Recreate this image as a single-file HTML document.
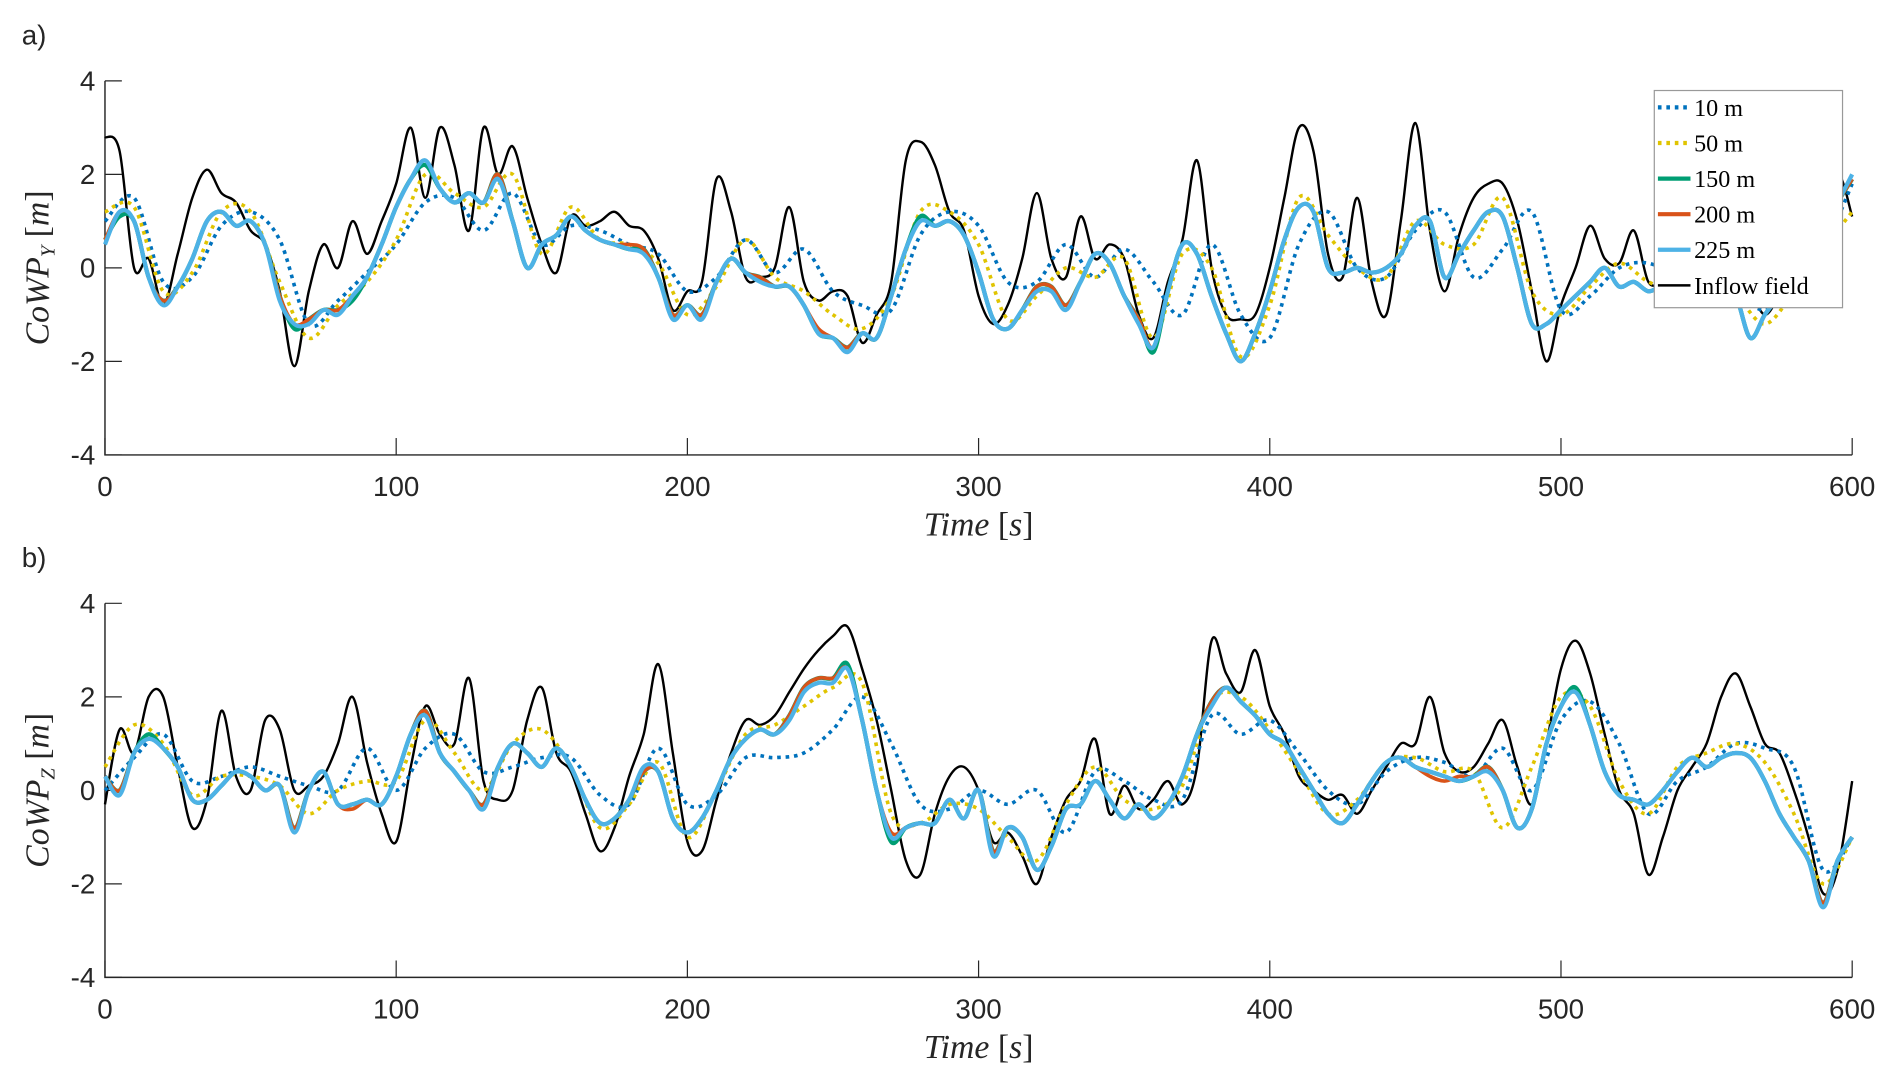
<!DOCTYPE html>
<html><head><meta charset="utf-8"><style>
html,body{margin:0;padding:0;background:#fff;}
svg{display:block;}
.tick{font-family:"Liberation Sans",sans-serif;font-size:23px;fill:#262626;}
.ttl{font-family:"Liberation Serif",serif;font-style:italic;font-size:28px;fill:#262626;}
.leg{font-family:"Liberation Serif",serif;font-size:20px;fill:#000;}
</style></head><body>
<svg id="chart" width="1892" height="1086" viewBox="0 0 1568 900" xmlns="http://www.w3.org/2000/svg"></svg>
<script>
// ---- data ----
const tickX = [0,100,200,300,400,500,600];
const tickY = [-4,-2,0,2,4];
// Panel a (CoWP_Y), step 5 s
const aInflow = [2.8,2.5,0.0,0.2,-0.8,0.3,1.5,2.1,1.6,1.4,0.8,0.5,-0.5,-2.1,-0.5,0.5,0.0,1.0,0.3,1.0,1.8,3.0,1.5,3.0,2.2,0.8,3.0,2.0,2.6,1.5,0.5,-0.1,1.1,0.9,1.0,1.2,0.9,0.8,0.2,-0.9,-0.5,-0.3,1.9,1.2,-0.2,-0.2,0.0,1.3,-0.3,-0.7,-0.5,-0.6,-1.6,-1.0,-0.3,2.3,2.7,2.2,1.2,0.8,-0.6,-1.2,-0.8,0.2,1.6,0.2,-0.2,1.1,0.2,0.5,0.2,-1.0,-1.5,-0.3,0.6,2.3,0.0,-1.0,-1.1,-1.0,0.0,1.5,3.0,2.5,0.3,-0.2,1.5,-0.3,-1.0,1.0,3.1,0.8,-0.5,0.7,1.5,1.8,1.8,1.0,-0.5,-2.0,-0.8,0.0,0.9,0.2,0.1,0.8,-0.3,-0.3,-0.3,-0.2,0.2,0.5,0.0,-0.5,-1.0,-0.6,-0.2,0.3,0.8,2.0,1.1];
const a225 = [0.5,1.2,1.0,-0.2,-0.8,-0.4,0.2,1.0,1.2,0.9,1.0,0.5,-0.7,-1.2,-1.2,-0.9,-1.0,-0.6,-0.2,0.5,1.3,1.9,2.3,1.7,1.4,1.6,1.4,1.9,1.0,0.0,0.5,0.7,1.1,0.8,0.6,0.5,0.4,0.3,-0.2,-1.1,-0.8,-1.1,-0.3,0.2,-0.1,-0.3,-0.4,-0.4,-0.8,-1.4,-1.5,-1.8,-1.4,-1.5,-0.6,0.4,1.0,0.9,1.0,0.7,-0.1,-1.1,-1.3,-0.9,-0.5,-0.5,-0.9,-0.3,0.3,0.1,-0.6,-1.2,-1.7,-0.5,0.5,0.3,-0.6,-1.4,-2.0,-1.4,-0.5,0.6,1.3,1.2,0.0,-0.1,0.0,-0.1,0.0,0.3,0.9,1.0,-0.2,0.3,0.8,1.2,1.1,0.0,-1.2,-1.2,-0.9,-0.6,-0.3,0.0,-0.4,-0.3,-0.5,-0.4,-0.6,-0.3,0.0,-0.5,-0.6,-1.5,-1.0,-0.6,-0.2,0.3,0.8,1.4,2.0];
const a200 = [0.6,1.2,1.0,-0.2,-0.7,-0.4,0.2,1.0,1.2,0.9,1.0,0.5,-0.6,-1.2,-1.1,-0.9,-0.9,-0.6,-0.2,0.5,1.3,1.9,2.3,1.7,1.4,1.6,1.4,2.0,1.0,0.0,0.5,0.7,1.1,0.8,0.6,0.5,0.5,0.4,-0.2,-1.0,-0.8,-1.0,-0.3,0.2,-0.1,-0.2,-0.4,-0.4,-0.8,-1.3,-1.5,-1.7,-1.4,-1.5,-0.6,0.4,1.0,0.9,1.0,0.7,-0.1,-1.1,-1.3,-0.9,-0.4,-0.4,-0.8,-0.3,0.3,0.1,-0.6,-1.1,-1.7,-0.5,0.5,0.3,-0.6,-1.4,-2.0,-1.4,-0.5,0.6,1.3,1.2,0.0,-0.1,0.0,-0.1,0.0,0.3,0.9,1.0,-0.2,0.3,0.8,1.2,1.1,0.0,-1.2,-1.2,-0.9,-0.6,-0.3,0.0,-0.4,-0.3,-0.5,-0.4,-0.6,-0.3,0.0,-0.5,-0.6,-1.5,-1.0,-0.6,-0.2,0.3,0.8,1.4,1.9];
const a150 = [0.6,1.1,1.0,-0.2,-0.7,-0.4,0.2,1.0,1.2,0.9,1.0,0.5,-0.6,-1.3,-1.1,-0.9,-0.9,-0.7,-0.2,0.5,1.3,1.9,2.2,1.7,1.4,1.6,1.4,2.0,1.0,0.0,0.5,0.7,1.1,0.8,0.6,0.5,0.4,0.4,-0.2,-1.0,-0.8,-1.0,-0.3,0.2,-0.1,-0.2,-0.4,-0.4,-0.8,-1.4,-1.5,-1.7,-1.4,-1.5,-0.6,0.4,1.1,0.9,1.0,0.7,-0.1,-1.1,-1.3,-0.9,-0.4,-0.4,-0.8,-0.3,0.3,0.1,-0.6,-1.1,-1.8,-0.5,0.5,0.3,-0.6,-1.4,-2.0,-1.4,-0.5,0.6,1.3,1.2,0.0,-0.1,0.0,-0.1,0.0,0.3,0.9,1.0,-0.2,0.3,0.8,1.2,1.1,0.0,-1.2,-1.2,-0.9,-0.6,-0.3,0.0,-0.4,-0.3,-0.5,-0.4,-0.6,-0.3,0.0,-0.5,-0.6,-1.5,-1.0,-0.6,-0.2,0.3,0.8,1.4,1.9];
// step 10 s
const a50 = [1.2,1.3,-0.5,-0.1,1.2,1.2,-0.3,-1.5,-0.8,-0.3,0.6,2.0,1.6,1.3,2.0,0.3,1.3,0.6,0.5,0.1,-1.0,-0.4,0.6,-0.2,-0.5,-1.0,-1.3,-0.6,1.2,1.2,0.5,-1.1,-0.6,0.0,-0.2,0.2,-1.5,0.3,0.0,-1.9,-0.8,1.5,0.7,0.0,-0.2,1.0,0.5,0.5,1.5,-0.5,-1.0,-0.4,0.1,-0.3,-0.5,-0.4,-0.6,-1.2,-0.5,0.4,1.2];
const a10 = [1.0,1.5,-0.3,-0.2,0.9,1.2,0.6,-1.2,-0.7,-0.1,0.5,1.4,1.5,0.8,1.6,0.5,0.9,0.8,0.5,0.3,-0.5,-0.2,0.6,-0.1,0.4,-0.5,-0.8,-0.9,0.7,1.2,0.9,-0.3,-0.3,0.5,-0.2,0.4,-0.3,-1.0,0.5,-1.0,-1.5,0.5,1.2,0.0,-0.2,0.8,1.2,-0.2,0.4,1.2,-0.9,-0.6,0.0,0.1,-0.2,-0.3,-0.5,-0.9,-0.3,0.4,1.8];
// Panel b (CoWP_Z), step 5 s
const bInflow = [-0.3,1.3,0.8,2.0,2.0,0.5,-0.8,-0.2,1.7,0.3,0.0,1.5,1.3,0.0,0.1,0.3,1.0,2.0,0.6,-0.5,-1.1,0.5,1.8,1.2,1.0,2.4,0.2,-0.2,0.0,1.5,2.2,0.8,0.4,-0.5,-1.3,-0.8,0.3,1.2,2.7,0.8,-1.1,-1.3,-0.2,0.8,1.5,1.4,1.6,2.1,2.6,3.0,3.3,3.5,2.6,1.5,0.0,-1.5,-1.8,-0.5,0.3,0.5,0.0,-1.1,-0.9,-1.4,-2.0,-1.0,-0.2,0.2,1.1,-0.5,0.1,-0.4,-0.2,0.2,-0.3,0.5,3.2,2.5,2.1,3.0,1.8,1.2,0.3,0.0,-0.2,-0.1,-0.5,0.0,0.5,1.0,1.0,2.0,0.8,0.4,0.5,1.0,1.5,0.5,-0.3,1.0,2.6,3.2,2.5,1.2,0.0,-0.5,-1.8,-1.0,0.0,0.5,1.0,2.0,2.5,1.8,1.0,0.8,0.0,-1.0,-2.2,-1.7,0.2];
const b225 = [0.3,-0.1,0.8,1.1,0.9,0.5,-0.2,-0.2,0.1,0.4,0.3,0.0,0.1,-0.9,0.0,0.4,-0.3,-0.3,-0.2,-0.3,0.3,1.2,1.6,0.8,0.4,0.0,-0.4,0.5,1.0,0.8,0.5,0.9,0.5,-0.2,-0.7,-0.6,-0.2,0.5,0.4,-0.6,-0.9,-0.6,0.0,0.7,1.1,1.3,1.2,1.5,2.1,2.3,2.3,2.6,1.5,0.0,-1.0,-0.8,-0.7,-0.7,-0.2,-0.6,0.0,-1.4,-0.8,-1.0,-1.7,-1.2,-0.4,-0.3,0.2,-0.2,-0.6,-0.3,-0.6,-0.3,0.3,1.2,1.8,2.2,1.9,1.6,1.2,1.0,0.5,0.0,-0.5,-0.7,-0.3,0.2,0.6,0.7,0.5,0.4,0.3,0.2,0.3,0.4,0.0,-0.8,-0.4,1.0,1.8,2.1,1.4,0.4,-0.1,-0.2,-0.3,0.0,0.4,0.7,0.5,0.7,0.8,0.7,0.2,-0.5,-1.0,-1.5,-2.5,-1.5,-1.0];
const b200 = [0.3,0.0,0.8,1.1,0.9,0.5,-0.2,-0.2,0.1,0.4,0.3,0.0,0.1,-0.8,0.0,0.4,-0.3,-0.4,-0.2,-0.3,0.3,1.2,1.7,0.8,0.4,0.0,-0.3,0.5,1.0,0.8,0.5,0.9,0.5,-0.2,-0.7,-0.6,-0.2,0.4,0.4,-0.6,-0.9,-0.6,0.0,0.7,1.1,1.3,1.2,1.6,2.2,2.4,2.4,2.6,1.5,0.0,-0.9,-0.8,-0.7,-0.7,-0.2,-0.6,0.0,-1.3,-0.8,-1.0,-1.7,-1.2,-0.4,-0.3,0.2,-0.2,-0.6,-0.3,-0.6,-0.3,0.3,1.2,1.9,2.2,1.9,1.6,1.2,1.0,0.5,0.0,-0.5,-0.7,-0.3,0.2,0.6,0.7,0.5,0.3,0.2,0.3,0.3,0.5,0.0,-0.8,-0.4,1.0,1.8,2.1,1.4,0.4,-0.1,-0.2,-0.3,0.0,0.4,0.7,0.5,0.7,0.8,0.7,0.2,-0.5,-1.0,-1.5,-2.4,-1.5,-1.0];
const b150 = [0.3,0.0,0.8,1.2,0.9,0.5,-0.2,-0.2,0.1,0.4,0.3,0.0,0.1,-0.8,0.0,0.4,-0.3,-0.3,-0.2,-0.3,0.3,1.2,1.7,0.8,0.4,0.0,-0.3,0.5,1.0,0.8,0.5,0.9,0.5,-0.2,-0.7,-0.6,-0.2,0.4,0.4,-0.6,-0.9,-0.6,0.0,0.7,1.1,1.3,1.2,1.6,2.2,2.4,2.4,2.7,1.5,0.0,-1.1,-0.8,-0.7,-0.7,-0.2,-0.6,0.0,-1.3,-0.8,-1.0,-1.7,-1.2,-0.4,-0.3,0.2,-0.2,-0.6,-0.3,-0.6,-0.3,0.3,1.2,1.9,2.2,1.9,1.6,1.2,1.0,0.5,0.0,-0.5,-0.7,-0.3,0.2,0.6,0.7,0.5,0.4,0.3,0.2,0.3,0.5,0.0,-0.8,-0.4,1.0,1.8,2.2,1.4,0.4,-0.1,-0.2,-0.3,0.0,0.4,0.7,0.5,0.7,0.8,0.7,0.2,-0.5,-1.0,-1.5,-2.4,-1.5,-1.0];
const b50 = [0.5,1.4,1.0,-0.1,0.3,0.3,0.1,-0.5,0.0,0.2,0.2,1.5,0.8,0.0,1.0,1.3,0.5,-0.8,-0.3,0.6,-1.0,0.0,1.2,1.4,1.8,2.2,2.3,-0.5,-0.7,-0.3,-0.4,-1.0,-1.5,-0.3,0.5,-0.2,-0.4,0.1,1.9,2.0,1.3,0.4,-0.5,-0.2,0.6,0.7,0.4,0.4,-0.8,0.5,2.0,1.8,0.2,-0.5,0.5,0.8,1.0,0.6,-0.5,-2.0,-1.0];
const b10 = [0.0,0.7,1.2,0.2,0.3,0.5,0.3,0.1,0.0,0.9,0.0,0.9,1.2,0.4,0.5,0.7,0.7,-0.1,-0.3,0.9,-0.3,-0.1,0.7,0.7,0.8,1.3,2.0,1.0,-0.3,-0.4,0.0,-0.3,0.0,-0.9,0.4,0.2,-0.2,-0.2,1.6,1.2,1.5,0.8,0.0,-0.3,0.4,0.7,0.6,0.3,0.9,0.0,1.5,1.9,1.0,-0.5,0.2,0.5,1.0,0.9,0.5,-1.7,-1.0];

const NS = "http://www.w3.org/2000/svg";
const svg = document.getElementById('chart');
function mk(tag, attrs, parent){ const e=document.createElementNS(NS,tag); for(const k in attrs) e.setAttribute(k,attrs[k]); (parent||svg).appendChild(e); return e; }

const X0=87, X1=1535;
function xs(t){ return X0 + (t/600)*(X1-X0); }

function smoothPath(pts){
  let d = 'M'+pts[0][0].toFixed(1)+' '+pts[0][1].toFixed(1);
  for(let i=0;i<pts.length-1;i++){
    const p0=pts[Math.max(0,i-1)], p1=pts[i], p2=pts[i+1], p3=pts[Math.min(pts.length-1,i+2)];
    const c1=[p1[0]+(p2[0]-p0[0])/6, p1[1]+(p2[1]-p0[1])/6];
    const c2=[p2[0]-(p3[0]-p1[0])/6, p2[1]-(p3[1]-p1[1])/6];
    d += `C${c1[0].toFixed(1)} ${c1[1].toFixed(1)} ${c2[0].toFixed(1)} ${c2[1].toFixed(1)} ${p2[0].toFixed(1)} ${p2[1].toFixed(1)}`;
  }
  return d;
}

function panel(top, bottom, label, sub, series, pname){
  const g = mk('g',{});
  
  
  const ys = v => bottom - (v+4)/8*(bottom-top);
  const ax = mk('path',{d:`M${X0} ${top}V${bottom}H${X1}`,stroke:'#262626','stroke-width':1.2,fill:'none'},g);
  
  
  tickX.forEach(t=>{
    const l = mk('line',{x1:xs(t),x2:xs(t),y1:bottom,y2:bottom-14,stroke:'#262626','stroke-width':1},g);
    
    
    const tx = mk('text',{x:xs(t),y:bottom+34,'text-anchor':'middle',class:'tick'},g);
    tx.textContent = t;
    
    
  });
  tickY.forEach(v=>{
    const l = mk('line',{x1:X0,x2:X0+14,y1:ys(v),y2:ys(v),stroke:'#262626','stroke-width':1},g);
    
    
    const tx = mk('text',{x:X0-8,y:ys(v)+8,'text-anchor':'end',class:'tick'},g);
    tx.textContent = v;
    
    
  });
  const xt = mk('text',{x:(X0+X1)/2,y:bottom+67,'text-anchor':'middle',class:'ttl'},g);
  xt.innerHTML = 'Time <tspan font-style="normal">[</tspan>s<tspan font-style="normal">]</tspan>';
  
  
  const cy=(top+bottom)/2;
  const yt = mk('text',{x:0,y:0,'text-anchor':'middle',class:'ttl',transform:`translate(40 ${cy}) rotate(-90)`},g);
  yt.innerHTML = `CoWP<tspan font-size="17" dy="5">${sub}</tspan><tspan dy="-5" font-style="normal"> [</tspan>m<tspan font-style="normal">]</tspan>`;
  
  
  const pl = mk('text',{x:18,y:top-30,class:'tick'},g);
  pl.textContent = label;
  
  
  series.forEach(s=>{
    const step = 600/(s.data.length-1);
    const pts = s.data.map((v,i)=>[xs(i*step), ys(v)]);
    const p = mk('path',{d:smoothPath(pts),fill:'none',stroke:s.color,'stroke-width':s.w,'stroke-linejoin':'round','stroke-dasharray':s.dash||'none'},g);
    
    
  });
}

const colors = {c10:'#0072BD',c50:'#E0C400',c150:'#009E73',c200:'#D95319',c225:'#4DB2E6',inf:'#000'};
panel(67,377,'a)','Y',[
  {data:aInflow,color:colors.inf,w:2,name:'line-inflow-field'},
  {data:a10,color:colors.c10,w:3,dash:'3 4',name:'line-10m'},
  {data:a50,color:colors.c50,w:3,dash:'3 4',name:'line-50m'},
  {data:a150,color:colors.c150,w:3.5,name:'line-150m'},
  {data:a200,color:colors.c200,w:3,name:'line-200m'},
  {data:a225,color:colors.c225,w:3.5,name:'line-225m'}
],'panel-a-cowp-y');
panel(500,810,'b)','Z',[
  {data:bInflow,color:colors.inf,w:2,name:'line-inflow-field'},
  {data:b10,color:colors.c10,w:3,dash:'3 4',name:'line-10m'},
  {data:b50,color:colors.c50,w:3,dash:'3 4',name:'line-50m'},
  {data:b150,color:colors.c150,w:3.5,name:'line-150m'},
  {data:b200,color:colors.c200,w:3,name:'line-200m'},
  {data:b225,color:colors.c225,w:3.5,name:'line-225m'}
],'panel-b-cowp-z');

// legend
const lg = mk('g',{});


mk('rect',{x:1371,y:75,width:156,height:180,fill:'#fff',stroke:'#999','stroke-width':1},lg);
const legItems = [['10 m',colors.c10,'3 4'],['50 m',colors.c50,'3 4'],['150 m',colors.c150,null],['200 m',colors.c200,null],['225 m',colors.c225,null],['Inflow field',colors.inf,null]];
legItems.forEach((it,i)=>{
  const y = 89 + i*29.5;
  const ln = mk('line',{x1:1374,x2:1401,y1:y,y2:y,stroke:it[1],'stroke-width':it[0]==='Inflow field'?2:3.5,'stroke-dasharray':it[2]||'none'},lg);
  
  
  const tx = mk('text',{x:1404,y:y+7,class:'leg'},lg);
  tx.textContent = it[0];
  
  
});
</script>
</body></html>
